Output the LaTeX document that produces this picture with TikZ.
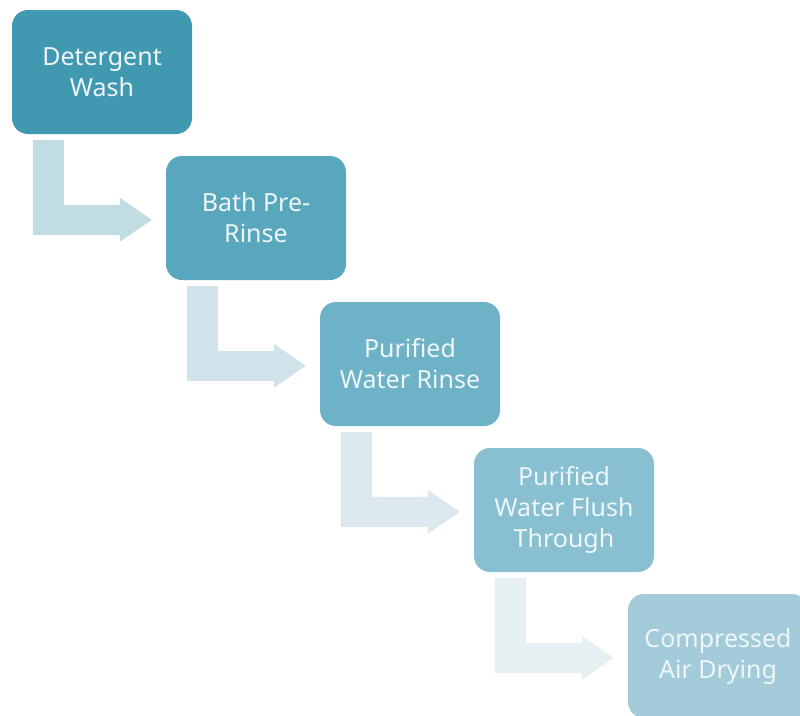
\documentclass[tikz,border=0pt]{standalone}
\usepackage{fontspec}
\setmainfont{Noto Sans}
\usetikzlibrary{calc}

\definecolor{stepA}{HTML}{4198B1}
\definecolor{stepB}{HTML}{58A7BD}
\definecolor{stepC}{HTML}{6EB2C7}
\definecolor{stepD}{HTML}{88BFD1}
\definecolor{stepE}{HTML}{A3CBDA}
\definecolor{flowA}{HTML}{C2DCE4}
\definecolor{flowB}{HTML}{D0E3EA}
\definecolor{flowC}{HTML}{DCE9EE}
\definecolor{flowD}{HTML}{E6EFF2}
\definecolor{labeltext}{HTML}{EEF6F8}

% bent block arrow from the bottom of one step to the left side of the next
\newcommand{\flowarrow}[3]{%
  \fill[#3]
    ($(#1.south west)+(21,6)$) -- ($(#1.south west)+(52,6)$)
    |- ($(#2.north west)+(-46,49)$)
    -- ($(#2.north west)+(-46,42)$)
    -- ($(#2.north west)+(-14,64)$)
    -- ($(#2.north west)+(-46,86)$)
    -- ($(#2.north west)+(-46,79)$)
    -| ($(#1.south west)+(21,6)$) -- cycle;}

\begin{document}
\begin{tikzpicture}[x=1pt,y=-1pt,
  stepbox/.style={rounded corners=16pt, minimum width=180pt, minimum height=124pt,
    inner sep=0pt, align=center, text=labeltext,
    font=\fontsize{25}{31}\selectfont}]
  \clip (0,0) rectangle (800,715);
  \useasboundingbox (0,0) rectangle (800,715);

  \node[stepbox, fill=stepA] (wash)   at (102,72)  {Detergent\\Wash};
  \node[stepbox, fill=stepB] (pre)    at (256,218) {Bath Pre-\\Rinse};
  \node[stepbox, fill=stepC] (rinse)  at (410,364) {Purified\\Water Rinse};
  \node[stepbox, fill=stepD] (flush)  at (564,510) {Purified\\Water Flush\\Through};
  \node[stepbox, fill=stepE] (dry)    at (718,656) {Compressed\\Air Drying};

  \flowarrow{wash}{pre}{flowA}
  \flowarrow{pre}{rinse}{flowB}
  \flowarrow{rinse}{flush}{flowC}
  \flowarrow{flush}{dry}{flowD}
\end{tikzpicture}
\end{document}
